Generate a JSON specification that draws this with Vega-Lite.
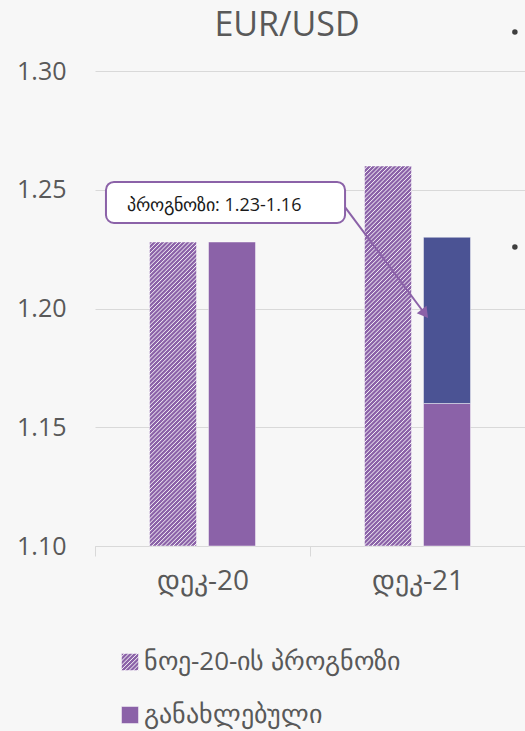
{
  "$schema": "https://vega.github.io/schema/vega-lite/v6.json",
  "autosize": {"type": "none"},
  "width": 430,
  "height": 475,
  "padding": {"left": 95, "top": 71, "right": 0, "bottom": 185},
  "background": "#f7f7f7",
  "title": {"text": "EUR/USD", "font": "Open Sans", "fontSize": 34, "fontWeight": "normal", "color": "#595959", "anchor": "middle", "frame": "group", "dx": -23, "offset": 0, "dy": 14},
  "datasets": {
    "bars": [
      {"period": "დეკ-20", "series": "ნოე-20-ის პროგნოზი", "value": 1.228},
      {"period": "დეკ-20", "series": "განახლებული", "value": 1.228},
      {"period": "დეკ-21", "series": "ნოე-20-ის პროგნოზი", "value": 1.26},
      {"period": "დეკ-21", "series": "განახლებული", "value": 1.16}
    ],
    "range": [
      {"period": "დეკ-21", "series": "განახლებული", "from": 1.16, "to": 1.23}
    ]
  },
  "config": {
    "view": {"stroke": null},
    "font": "Open Sans",
    "bar": {"stroke": "#ffffff", "strokeOpacity": 0.45, "strokeWidth": 1},
    "axisX": {"domainColor": "#d9d9d9", "tickColor": "#d9d9d9", "tickSize": 10, "tickBand": "extent", "labelFontSize": 28, "labelColor": "#595959", "labelPadding": 11, "labelAngle": 0, "grid": false},
    "axisY": {"domain": false, "ticks": false, "tickSize": 0, "labelFontSize": 25, "labelColor": "#595959", "labelPadding": 29, "gridColor": "#d9d9d9", "gridWidth": 1}
  },
  "resolve": {"scale": {"x": "independent"}},
  "layer": [
    {
      "data": {"name": "bars"},
      "layer": [
        {
          "transform": [{"filter": "datum.series === 'ნოე-20-ის პროგნოზი' && datum.period === 'დეკ-20'"}],
          "mark": {"type": "bar", "fill": {"gradient": "linear", "x1": 0, "y1": 0, "x2": 0.174341, "y2": 1.127651, "stops": [
            {"offset":0,"color":"#8b62a8"},{"offset":0.006,"color":"#8b62a8"},{"offset":0.009,"color":"#f4f1f6"},
            {"offset":0.012,"color":"#8b62a8"},{"offset":0.018,"color":"#8b62a8"},{"offset":0.021,"color":"#f4f1f6"},
            {"offset":0.024,"color":"#8b62a8"},{"offset":0.03,"color":"#8b62a8"},{"offset":0.033,"color":"#f4f1f6"},
            {"offset":0.036,"color":"#8b62a8"},{"offset":0.042,"color":"#8b62a8"},{"offset":0.045,"color":"#f4f1f6"},
            {"offset":0.048,"color":"#8b62a8"},{"offset":0.054,"color":"#8b62a8"},{"offset":0.057,"color":"#f4f1f6"},
            {"offset":0.06,"color":"#8b62a8"},{"offset":0.066,"color":"#8b62a8"},{"offset":0.069,"color":"#f4f1f6"},
            {"offset":0.072,"color":"#8b62a8"},{"offset":0.078,"color":"#8b62a8"},{"offset":0.081,"color":"#f4f1f6"},
            {"offset":0.084,"color":"#8b62a8"},{"offset":0.09,"color":"#8b62a8"},{"offset":0.093,"color":"#f4f1f6"},
            {"offset":0.096,"color":"#8b62a8"},{"offset":0.102,"color":"#8b62a8"},{"offset":0.105,"color":"#f4f1f6"},
            {"offset":0.108,"color":"#8b62a8"},{"offset":0.114,"color":"#8b62a8"},{"offset":0.117,"color":"#f4f1f6"},
            {"offset":0.12,"color":"#8b62a8"},{"offset":0.126,"color":"#8b62a8"},{"offset":0.129,"color":"#f4f1f6"},
            {"offset":0.132,"color":"#8b62a8"},{"offset":0.138,"color":"#8b62a8"},{"offset":0.141,"color":"#f4f1f6"},
            {"offset":0.144,"color":"#8b62a8"},{"offset":0.15,"color":"#8b62a8"},{"offset":0.153,"color":"#f4f1f6"},
            {"offset":0.156,"color":"#8b62a8"},{"offset":0.162,"color":"#8b62a8"},{"offset":0.165,"color":"#f4f1f6"},
            {"offset":0.168,"color":"#8b62a8"},{"offset":0.174,"color":"#8b62a8"},{"offset":0.177,"color":"#f4f1f6"},
            {"offset":0.18,"color":"#8b62a8"},{"offset":0.186,"color":"#8b62a8"},{"offset":0.189,"color":"#f4f1f6"},
            {"offset":0.192,"color":"#8b62a8"},{"offset":0.198,"color":"#8b62a8"},{"offset":0.201,"color":"#f4f1f6"},
            {"offset":0.204,"color":"#8b62a8"},{"offset":0.21,"color":"#8b62a8"},{"offset":0.213,"color":"#f4f1f6"},
            {"offset":0.216,"color":"#8b62a8"},{"offset":0.222,"color":"#8b62a8"},{"offset":0.225,"color":"#f4f1f6"},
            {"offset":0.228,"color":"#8b62a8"},{"offset":0.234,"color":"#8b62a8"},{"offset":0.237,"color":"#f4f1f6"},
            {"offset":0.24,"color":"#8b62a8"},{"offset":0.246,"color":"#8b62a8"},{"offset":0.249,"color":"#f4f1f6"},
            {"offset":0.252,"color":"#8b62a8"},{"offset":0.258,"color":"#8b62a8"},{"offset":0.261,"color":"#f4f1f6"},
            {"offset":0.264,"color":"#8b62a8"},{"offset":0.27,"color":"#8b62a8"},{"offset":0.273,"color":"#f4f1f6"},
            {"offset":0.276,"color":"#8b62a8"},{"offset":0.282,"color":"#8b62a8"},{"offset":0.285,"color":"#f4f1f6"},
            {"offset":0.288,"color":"#8b62a8"},{"offset":0.294,"color":"#8b62a8"},{"offset":0.297,"color":"#f4f1f6"},
            {"offset":0.3,"color":"#8b62a8"},{"offset":0.306,"color":"#8b62a8"},{"offset":0.309,"color":"#f4f1f6"},
            {"offset":0.312,"color":"#8b62a8"},{"offset":0.318,"color":"#8b62a8"},{"offset":0.321,"color":"#f4f1f6"},
            {"offset":0.324,"color":"#8b62a8"},{"offset":0.33,"color":"#8b62a8"},{"offset":0.333,"color":"#f4f1f6"},
            {"offset":0.336,"color":"#8b62a8"},{"offset":0.342,"color":"#8b62a8"},{"offset":0.345,"color":"#f4f1f6"},
            {"offset":0.348,"color":"#8b62a8"},{"offset":0.354,"color":"#8b62a8"},{"offset":0.357,"color":"#f4f1f6"},
            {"offset":0.36,"color":"#8b62a8"},{"offset":0.366,"color":"#8b62a8"},{"offset":0.369,"color":"#f4f1f6"},
            {"offset":0.372,"color":"#8b62a8"},{"offset":0.378,"color":"#8b62a8"},{"offset":0.381,"color":"#f4f1f6"},
            {"offset":0.384,"color":"#8b62a8"},{"offset":0.39,"color":"#8b62a8"},{"offset":0.393,"color":"#f4f1f6"},
            {"offset":0.396,"color":"#8b62a8"},{"offset":0.402,"color":"#8b62a8"},{"offset":0.405,"color":"#f4f1f6"},
            {"offset":0.408,"color":"#8b62a8"},{"offset":0.414,"color":"#8b62a8"},{"offset":0.417,"color":"#f4f1f6"},
            {"offset":0.42,"color":"#8b62a8"},{"offset":0.426,"color":"#8b62a8"},{"offset":0.429,"color":"#f4f1f6"},
            {"offset":0.432,"color":"#8b62a8"},{"offset":0.438,"color":"#8b62a8"},{"offset":0.441,"color":"#f4f1f6"},
            {"offset":0.444,"color":"#8b62a8"},{"offset":0.45,"color":"#8b62a8"},{"offset":0.453,"color":"#f4f1f6"},
            {"offset":0.456,"color":"#8b62a8"},{"offset":0.462,"color":"#8b62a8"},{"offset":0.465,"color":"#f4f1f6"},
            {"offset":0.468,"color":"#8b62a8"},{"offset":0.474,"color":"#8b62a8"},{"offset":0.477,"color":"#f4f1f6"},
            {"offset":0.48,"color":"#8b62a8"},{"offset":0.486,"color":"#8b62a8"},{"offset":0.489,"color":"#f4f1f6"},
            {"offset":0.492,"color":"#8b62a8"},{"offset":0.498,"color":"#8b62a8"},{"offset":0.501,"color":"#f4f1f6"},
            {"offset":0.504,"color":"#8b62a8"},{"offset":0.51,"color":"#8b62a8"},{"offset":0.513,"color":"#f4f1f6"},
            {"offset":0.516,"color":"#8b62a8"},{"offset":0.522,"color":"#8b62a8"},{"offset":0.525,"color":"#f4f1f6"},
            {"offset":0.528,"color":"#8b62a8"},{"offset":0.534,"color":"#8b62a8"},{"offset":0.537,"color":"#f4f1f6"},
            {"offset":0.54,"color":"#8b62a8"},{"offset":0.546,"color":"#8b62a8"},{"offset":0.549,"color":"#f4f1f6"},
            {"offset":0.552,"color":"#8b62a8"},{"offset":0.558,"color":"#8b62a8"},{"offset":0.561,"color":"#f4f1f6"},
            {"offset":0.564,"color":"#8b62a8"},{"offset":0.57,"color":"#8b62a8"},{"offset":0.573,"color":"#f4f1f6"},
            {"offset":0.576,"color":"#8b62a8"},{"offset":0.582,"color":"#8b62a8"},{"offset":0.585,"color":"#f4f1f6"},
            {"offset":0.588,"color":"#8b62a8"},{"offset":0.594,"color":"#8b62a8"},{"offset":0.597,"color":"#f4f1f6"},
            {"offset":0.6,"color":"#8b62a8"},{"offset":0.606,"color":"#8b62a8"},{"offset":0.609,"color":"#f4f1f6"},
            {"offset":0.612,"color":"#8b62a8"},{"offset":0.618,"color":"#8b62a8"},{"offset":0.621,"color":"#f4f1f6"},
            {"offset":0.624,"color":"#8b62a8"},{"offset":0.63,"color":"#8b62a8"},{"offset":0.633,"color":"#f4f1f6"},
            {"offset":0.636,"color":"#8b62a8"},{"offset":0.642,"color":"#8b62a8"},{"offset":0.645,"color":"#f4f1f6"},
            {"offset":0.648,"color":"#8b62a8"},{"offset":0.654,"color":"#8b62a8"},{"offset":0.657,"color":"#f4f1f6"},
            {"offset":0.66,"color":"#8b62a8"},{"offset":0.666,"color":"#8b62a8"},{"offset":0.669,"color":"#f4f1f6"},
            {"offset":0.672,"color":"#8b62a8"},{"offset":0.678,"color":"#8b62a8"},{"offset":0.681,"color":"#f4f1f6"},
            {"offset":0.684,"color":"#8b62a8"},{"offset":0.69,"color":"#8b62a8"},{"offset":0.693,"color":"#f4f1f6"},
            {"offset":0.696,"color":"#8b62a8"},{"offset":0.702,"color":"#8b62a8"},{"offset":0.705,"color":"#f4f1f6"},
            {"offset":0.708,"color":"#8b62a8"},{"offset":0.714,"color":"#8b62a8"},{"offset":0.717,"color":"#f4f1f6"},
            {"offset":0.72,"color":"#8b62a8"},{"offset":0.726,"color":"#8b62a8"},{"offset":0.729,"color":"#f4f1f6"},
            {"offset":0.732,"color":"#8b62a8"},{"offset":0.738,"color":"#8b62a8"},{"offset":0.741,"color":"#f4f1f6"},
            {"offset":0.744,"color":"#8b62a8"},{"offset":0.75,"color":"#8b62a8"},{"offset":0.753,"color":"#f4f1f6"},
            {"offset":0.756,"color":"#8b62a8"},{"offset":0.762,"color":"#8b62a8"},{"offset":0.765,"color":"#f4f1f6"},
            {"offset":0.768,"color":"#8b62a8"},{"offset":0.774,"color":"#8b62a8"},{"offset":0.777,"color":"#f4f1f6"},
            {"offset":0.78,"color":"#8b62a8"},{"offset":0.786,"color":"#8b62a8"},{"offset":0.789,"color":"#f4f1f6"},
            {"offset":0.792,"color":"#8b62a8"},{"offset":0.798,"color":"#8b62a8"},{"offset":0.801,"color":"#f4f1f6"},
            {"offset":0.804,"color":"#8b62a8"},{"offset":0.81,"color":"#8b62a8"},{"offset":0.813,"color":"#f4f1f6"},
            {"offset":0.816,"color":"#8b62a8"},{"offset":0.822,"color":"#8b62a8"},{"offset":0.825,"color":"#f4f1f6"},
            {"offset":0.828,"color":"#8b62a8"},{"offset":0.834,"color":"#8b62a8"},{"offset":0.837,"color":"#f4f1f6"},
            {"offset":0.84,"color":"#8b62a8"},{"offset":0.846,"color":"#8b62a8"},{"offset":0.849,"color":"#f4f1f6"},
            {"offset":0.852,"color":"#8b62a8"},{"offset":0.858,"color":"#8b62a8"},{"offset":0.861,"color":"#f4f1f6"},
            {"offset":0.864,"color":"#8b62a8"},{"offset":0.87,"color":"#8b62a8"},{"offset":0.873,"color":"#f4f1f6"},
            {"offset":0.876,"color":"#8b62a8"},{"offset":0.882,"color":"#8b62a8"},{"offset":0.885,"color":"#f4f1f6"},
            {"offset":0.888,"color":"#8b62a8"},{"offset":0.894,"color":"#8b62a8"},{"offset":0.897,"color":"#f4f1f6"},
            {"offset":0.9,"color":"#8b62a8"},{"offset":0.906,"color":"#8b62a8"},{"offset":0.909,"color":"#f4f1f6"},
            {"offset":0.912,"color":"#8b62a8"},{"offset":0.918,"color":"#8b62a8"},{"offset":0.921,"color":"#f4f1f6"},
            {"offset":0.924,"color":"#8b62a8"},{"offset":0.93,"color":"#8b62a8"},{"offset":0.933,"color":"#f4f1f6"},
            {"offset":0.936,"color":"#8b62a8"},{"offset":0.942,"color":"#8b62a8"},{"offset":0.945,"color":"#f4f1f6"},
            {"offset":0.948,"color":"#8b62a8"},{"offset":0.954,"color":"#8b62a8"},{"offset":0.957,"color":"#f4f1f6"},
            {"offset":0.96,"color":"#8b62a8"},{"offset":0.966,"color":"#8b62a8"},{"offset":0.969,"color":"#f4f1f6"},
            {"offset":0.972,"color":"#8b62a8"},{"offset":0.978,"color":"#8b62a8"},{"offset":0.981,"color":"#f4f1f6"},
            {"offset":0.984,"color":"#8b62a8"},{"offset":0.99,"color":"#8b62a8"},{"offset":0.993,"color":"#f4f1f6"},
            {"offset":0.996,"color":"#8b62a8"}
          ]}},
          "encoding": {
            "x": {"field": "period", "type": "nominal", "sort": ["დეკ-20", "დეკ-21"], "scale": {"paddingInner": 0, "paddingOuter": 0}, "title": null},
            "xOffset": {"field": "series", "type": "nominal", "scale": {"domain": ["ნოე-20-ის პროგნოზი", "განახლებული"], "paddingInner": 0.2034, "paddingOuter": 0.9237}},
            "y": {"field": "value", "type": "quantitative", "scale": {"domain": [1.1, 1.3], "zero": false, "nice": false}, "axis": {"values": [1.1, 1.15, 1.2, 1.25, 1.3], "format": ".2f"}, "title": null},
            "y2": {"datum": 1.1}
          }
        },
        {
          "transform": [{"filter": "datum.series === 'ნოე-20-ის პროგნოზი' && datum.period === 'დეკ-21'"}],
          "mark": {"type": "bar", "fill": {"gradient": "linear", "x1": 0, "y1": 0, "x2": 0.136888, "y2": 1.106754, "stops": [
            {"offset":0,"color":"#8b62a8"},{"offset":0.005,"color":"#8b62a8"},{"offset":0.0075,"color":"#f4f1f6"},
            {"offset":0.01,"color":"#8b62a8"},{"offset":0.015,"color":"#8b62a8"},{"offset":0.0175,"color":"#f4f1f6"},
            {"offset":0.02,"color":"#8b62a8"},{"offset":0.025,"color":"#8b62a8"},{"offset":0.0275,"color":"#f4f1f6"},
            {"offset":0.03,"color":"#8b62a8"},{"offset":0.035,"color":"#8b62a8"},{"offset":0.0375,"color":"#f4f1f6"},
            {"offset":0.04,"color":"#8b62a8"},{"offset":0.045,"color":"#8b62a8"},{"offset":0.0475,"color":"#f4f1f6"},
            {"offset":0.05,"color":"#8b62a8"},{"offset":0.055,"color":"#8b62a8"},{"offset":0.0575,"color":"#f4f1f6"},
            {"offset":0.06,"color":"#8b62a8"},{"offset":0.065,"color":"#8b62a8"},{"offset":0.0675,"color":"#f4f1f6"},
            {"offset":0.07,"color":"#8b62a8"},{"offset":0.075,"color":"#8b62a8"},{"offset":0.0775,"color":"#f4f1f6"},
            {"offset":0.08,"color":"#8b62a8"},{"offset":0.085,"color":"#8b62a8"},{"offset":0.0875,"color":"#f4f1f6"},
            {"offset":0.09,"color":"#8b62a8"},{"offset":0.095,"color":"#8b62a8"},{"offset":0.0975,"color":"#f4f1f6"},
            {"offset":0.1,"color":"#8b62a8"},{"offset":0.105,"color":"#8b62a8"},{"offset":0.1075,"color":"#f4f1f6"},
            {"offset":0.11,"color":"#8b62a8"},{"offset":0.115,"color":"#8b62a8"},{"offset":0.1175,"color":"#f4f1f6"},
            {"offset":0.12,"color":"#8b62a8"},{"offset":0.125,"color":"#8b62a8"},{"offset":0.1275,"color":"#f4f1f6"},
            {"offset":0.13,"color":"#8b62a8"},{"offset":0.135,"color":"#8b62a8"},{"offset":0.1375,"color":"#f4f1f6"},
            {"offset":0.14,"color":"#8b62a8"},{"offset":0.145,"color":"#8b62a8"},{"offset":0.1475,"color":"#f4f1f6"},
            {"offset":0.15,"color":"#8b62a8"},{"offset":0.155,"color":"#8b62a8"},{"offset":0.1575,"color":"#f4f1f6"},
            {"offset":0.16,"color":"#8b62a8"},{"offset":0.165,"color":"#8b62a8"},{"offset":0.1675,"color":"#f4f1f6"},
            {"offset":0.17,"color":"#8b62a8"},{"offset":0.175,"color":"#8b62a8"},{"offset":0.1775,"color":"#f4f1f6"},
            {"offset":0.18,"color":"#8b62a8"},{"offset":0.185,"color":"#8b62a8"},{"offset":0.1875,"color":"#f4f1f6"},
            {"offset":0.19,"color":"#8b62a8"},{"offset":0.195,"color":"#8b62a8"},{"offset":0.1975,"color":"#f4f1f6"},
            {"offset":0.2,"color":"#8b62a8"},{"offset":0.205,"color":"#8b62a8"},{"offset":0.2075,"color":"#f4f1f6"},
            {"offset":0.21,"color":"#8b62a8"},{"offset":0.215,"color":"#8b62a8"},{"offset":0.2175,"color":"#f4f1f6"},
            {"offset":0.22,"color":"#8b62a8"},{"offset":0.225,"color":"#8b62a8"},{"offset":0.2275,"color":"#f4f1f6"},
            {"offset":0.23,"color":"#8b62a8"},{"offset":0.235,"color":"#8b62a8"},{"offset":0.2375,"color":"#f4f1f6"},
            {"offset":0.24,"color":"#8b62a8"},{"offset":0.245,"color":"#8b62a8"},{"offset":0.2475,"color":"#f4f1f6"},
            {"offset":0.25,"color":"#8b62a8"},{"offset":0.255,"color":"#8b62a8"},{"offset":0.2575,"color":"#f4f1f6"},
            {"offset":0.26,"color":"#8b62a8"},{"offset":0.265,"color":"#8b62a8"},{"offset":0.2675,"color":"#f4f1f6"},
            {"offset":0.27,"color":"#8b62a8"},{"offset":0.275,"color":"#8b62a8"},{"offset":0.2775,"color":"#f4f1f6"},
            {"offset":0.28,"color":"#8b62a8"},{"offset":0.285,"color":"#8b62a8"},{"offset":0.2875,"color":"#f4f1f6"},
            {"offset":0.29,"color":"#8b62a8"},{"offset":0.295,"color":"#8b62a8"},{"offset":0.2975,"color":"#f4f1f6"},
            {"offset":0.3,"color":"#8b62a8"},{"offset":0.305,"color":"#8b62a8"},{"offset":0.3075,"color":"#f4f1f6"},
            {"offset":0.31,"color":"#8b62a8"},{"offset":0.315,"color":"#8b62a8"},{"offset":0.3175,"color":"#f4f1f6"},
            {"offset":0.32,"color":"#8b62a8"},{"offset":0.325,"color":"#8b62a8"},{"offset":0.3275,"color":"#f4f1f6"},
            {"offset":0.33,"color":"#8b62a8"},{"offset":0.335,"color":"#8b62a8"},{"offset":0.3375,"color":"#f4f1f6"},
            {"offset":0.34,"color":"#8b62a8"},{"offset":0.345,"color":"#8b62a8"},{"offset":0.3475,"color":"#f4f1f6"},
            {"offset":0.35,"color":"#8b62a8"},{"offset":0.355,"color":"#8b62a8"},{"offset":0.3575,"color":"#f4f1f6"},
            {"offset":0.36,"color":"#8b62a8"},{"offset":0.365,"color":"#8b62a8"},{"offset":0.3675,"color":"#f4f1f6"},
            {"offset":0.37,"color":"#8b62a8"},{"offset":0.375,"color":"#8b62a8"},{"offset":0.3775,"color":"#f4f1f6"},
            {"offset":0.38,"color":"#8b62a8"},{"offset":0.385,"color":"#8b62a8"},{"offset":0.3875,"color":"#f4f1f6"},
            {"offset":0.39,"color":"#8b62a8"},{"offset":0.395,"color":"#8b62a8"},{"offset":0.3975,"color":"#f4f1f6"},
            {"offset":0.4,"color":"#8b62a8"},{"offset":0.405,"color":"#8b62a8"},{"offset":0.4075,"color":"#f4f1f6"},
            {"offset":0.41,"color":"#8b62a8"},{"offset":0.415,"color":"#8b62a8"},{"offset":0.4175,"color":"#f4f1f6"},
            {"offset":0.42,"color":"#8b62a8"},{"offset":0.425,"color":"#8b62a8"},{"offset":0.4275,"color":"#f4f1f6"},
            {"offset":0.43,"color":"#8b62a8"},{"offset":0.435,"color":"#8b62a8"},{"offset":0.4375,"color":"#f4f1f6"},
            {"offset":0.44,"color":"#8b62a8"},{"offset":0.445,"color":"#8b62a8"},{"offset":0.4475,"color":"#f4f1f6"},
            {"offset":0.45,"color":"#8b62a8"},{"offset":0.455,"color":"#8b62a8"},{"offset":0.4575,"color":"#f4f1f6"},
            {"offset":0.46,"color":"#8b62a8"},{"offset":0.465,"color":"#8b62a8"},{"offset":0.4675,"color":"#f4f1f6"},
            {"offset":0.47,"color":"#8b62a8"},{"offset":0.475,"color":"#8b62a8"},{"offset":0.4775,"color":"#f4f1f6"},
            {"offset":0.48,"color":"#8b62a8"},{"offset":0.485,"color":"#8b62a8"},{"offset":0.4875,"color":"#f4f1f6"},
            {"offset":0.49,"color":"#8b62a8"},{"offset":0.495,"color":"#8b62a8"},{"offset":0.4975,"color":"#f4f1f6"},
            {"offset":0.5,"color":"#8b62a8"},{"offset":0.505,"color":"#8b62a8"},{"offset":0.5075,"color":"#f4f1f6"},
            {"offset":0.51,"color":"#8b62a8"},{"offset":0.515,"color":"#8b62a8"},{"offset":0.5175,"color":"#f4f1f6"},
            {"offset":0.52,"color":"#8b62a8"},{"offset":0.525,"color":"#8b62a8"},{"offset":0.5275,"color":"#f4f1f6"},
            {"offset":0.53,"color":"#8b62a8"},{"offset":0.535,"color":"#8b62a8"},{"offset":0.5375,"color":"#f4f1f6"},
            {"offset":0.54,"color":"#8b62a8"},{"offset":0.545,"color":"#8b62a8"},{"offset":0.5475,"color":"#f4f1f6"},
            {"offset":0.55,"color":"#8b62a8"},{"offset":0.555,"color":"#8b62a8"},{"offset":0.5575,"color":"#f4f1f6"},
            {"offset":0.56,"color":"#8b62a8"},{"offset":0.565,"color":"#8b62a8"},{"offset":0.5675,"color":"#f4f1f6"},
            {"offset":0.57,"color":"#8b62a8"},{"offset":0.575,"color":"#8b62a8"},{"offset":0.5775,"color":"#f4f1f6"},
            {"offset":0.58,"color":"#8b62a8"},{"offset":0.585,"color":"#8b62a8"},{"offset":0.5875,"color":"#f4f1f6"},
            {"offset":0.59,"color":"#8b62a8"},{"offset":0.595,"color":"#8b62a8"},{"offset":0.5975,"color":"#f4f1f6"},
            {"offset":0.6,"color":"#8b62a8"},{"offset":0.605,"color":"#8b62a8"},{"offset":0.6075,"color":"#f4f1f6"},
            {"offset":0.61,"color":"#8b62a8"},{"offset":0.615,"color":"#8b62a8"},{"offset":0.6175,"color":"#f4f1f6"},
            {"offset":0.62,"color":"#8b62a8"},{"offset":0.625,"color":"#8b62a8"},{"offset":0.6275,"color":"#f4f1f6"},
            {"offset":0.63,"color":"#8b62a8"},{"offset":0.635,"color":"#8b62a8"},{"offset":0.6375,"color":"#f4f1f6"},
            {"offset":0.64,"color":"#8b62a8"},{"offset":0.645,"color":"#8b62a8"},{"offset":0.6475,"color":"#f4f1f6"},
            {"offset":0.65,"color":"#8b62a8"},{"offset":0.655,"color":"#8b62a8"},{"offset":0.6575,"color":"#f4f1f6"},
            {"offset":0.66,"color":"#8b62a8"},{"offset":0.665,"color":"#8b62a8"},{"offset":0.6675,"color":"#f4f1f6"},
            {"offset":0.67,"color":"#8b62a8"},{"offset":0.675,"color":"#8b62a8"},{"offset":0.6775,"color":"#f4f1f6"},
            {"offset":0.68,"color":"#8b62a8"},{"offset":0.685,"color":"#8b62a8"},{"offset":0.6875,"color":"#f4f1f6"},
            {"offset":0.69,"color":"#8b62a8"},{"offset":0.695,"color":"#8b62a8"},{"offset":0.6975,"color":"#f4f1f6"},
            {"offset":0.7,"color":"#8b62a8"},{"offset":0.705,"color":"#8b62a8"},{"offset":0.7075,"color":"#f4f1f6"},
            {"offset":0.71,"color":"#8b62a8"},{"offset":0.715,"color":"#8b62a8"},{"offset":0.7175,"color":"#f4f1f6"},
            {"offset":0.72,"color":"#8b62a8"},{"offset":0.725,"color":"#8b62a8"},{"offset":0.7275,"color":"#f4f1f6"},
            {"offset":0.73,"color":"#8b62a8"},{"offset":0.735,"color":"#8b62a8"},{"offset":0.7375,"color":"#f4f1f6"},
            {"offset":0.74,"color":"#8b62a8"},{"offset":0.745,"color":"#8b62a8"},{"offset":0.7475,"color":"#f4f1f6"},
            {"offset":0.75,"color":"#8b62a8"},{"offset":0.755,"color":"#8b62a8"},{"offset":0.7575,"color":"#f4f1f6"},
            {"offset":0.76,"color":"#8b62a8"},{"offset":0.765,"color":"#8b62a8"},{"offset":0.7675,"color":"#f4f1f6"},
            {"offset":0.77,"color":"#8b62a8"},{"offset":0.775,"color":"#8b62a8"},{"offset":0.7775,"color":"#f4f1f6"},
            {"offset":0.78,"color":"#8b62a8"},{"offset":0.785,"color":"#8b62a8"},{"offset":0.7875,"color":"#f4f1f6"},
            {"offset":0.79,"color":"#8b62a8"},{"offset":0.795,"color":"#8b62a8"},{"offset":0.7975,"color":"#f4f1f6"},
            {"offset":0.8,"color":"#8b62a8"},{"offset":0.805,"color":"#8b62a8"},{"offset":0.8075,"color":"#f4f1f6"},
            {"offset":0.81,"color":"#8b62a8"},{"offset":0.815,"color":"#8b62a8"},{"offset":0.8175,"color":"#f4f1f6"},
            {"offset":0.82,"color":"#8b62a8"},{"offset":0.825,"color":"#8b62a8"},{"offset":0.8275,"color":"#f4f1f6"},
            {"offset":0.83,"color":"#8b62a8"},{"offset":0.835,"color":"#8b62a8"},{"offset":0.8375,"color":"#f4f1f6"},
            {"offset":0.84,"color":"#8b62a8"},{"offset":0.845,"color":"#8b62a8"},{"offset":0.8475,"color":"#f4f1f6"},
            {"offset":0.85,"color":"#8b62a8"},{"offset":0.855,"color":"#8b62a8"},{"offset":0.8575,"color":"#f4f1f6"},
            {"offset":0.86,"color":"#8b62a8"},{"offset":0.865,"color":"#8b62a8"},{"offset":0.8675,"color":"#f4f1f6"},
            {"offset":0.87,"color":"#8b62a8"},{"offset":0.875,"color":"#8b62a8"},{"offset":0.8775,"color":"#f4f1f6"},
            {"offset":0.88,"color":"#8b62a8"},{"offset":0.885,"color":"#8b62a8"},{"offset":0.8875,"color":"#f4f1f6"},
            {"offset":0.89,"color":"#8b62a8"},{"offset":0.895,"color":"#8b62a8"},{"offset":0.8975,"color":"#f4f1f6"},
            {"offset":0.9,"color":"#8b62a8"},{"offset":0.905,"color":"#8b62a8"},{"offset":0.9075,"color":"#f4f1f6"},
            {"offset":0.91,"color":"#8b62a8"},{"offset":0.915,"color":"#8b62a8"},{"offset":0.9175,"color":"#f4f1f6"},
            {"offset":0.92,"color":"#8b62a8"},{"offset":0.925,"color":"#8b62a8"},{"offset":0.9275,"color":"#f4f1f6"},
            {"offset":0.93,"color":"#8b62a8"},{"offset":0.935,"color":"#8b62a8"},{"offset":0.9375,"color":"#f4f1f6"},
            {"offset":0.94,"color":"#8b62a8"},{"offset":0.945,"color":"#8b62a8"},{"offset":0.9475,"color":"#f4f1f6"},
            {"offset":0.95,"color":"#8b62a8"},{"offset":0.955,"color":"#8b62a8"},{"offset":0.9575,"color":"#f4f1f6"},
            {"offset":0.96,"color":"#8b62a8"},{"offset":0.965,"color":"#8b62a8"},{"offset":0.9675,"color":"#f4f1f6"},
            {"offset":0.97,"color":"#8b62a8"},{"offset":0.975,"color":"#8b62a8"},{"offset":0.9775,"color":"#f4f1f6"},
            {"offset":0.98,"color":"#8b62a8"},{"offset":0.985,"color":"#8b62a8"},{"offset":0.9875,"color":"#f4f1f6"},
            {"offset":0.99,"color":"#8b62a8"},{"offset":0.995,"color":"#8b62a8"},{"offset":0.9975,"color":"#f4f1f6"},
            {"offset":1,"color":"#8b62a8"}
          ]}},
          "encoding": {
            "x": {"field": "period", "type": "nominal", "sort": ["დეკ-20", "დეკ-21"], "scale": {"paddingInner": 0, "paddingOuter": 0}, "title": null},
            "xOffset": {"field": "series", "type": "nominal", "scale": {"domain": ["ნოე-20-ის პროგნოზი", "განახლებული"], "paddingInner": 0.2034, "paddingOuter": 0.9237}},
            "y": {"field": "value", "type": "quantitative", "scale": {"domain": [1.1, 1.3], "zero": false, "nice": false}, "axis": {"values": [1.1, 1.15, 1.2, 1.25, 1.3], "format": ".2f"}, "title": null},
            "y2": {"datum": 1.1}
          }
        },
        {
          "transform": [{"filter": "datum.series === 'განახლებული'"}],
          "mark": {"type": "bar"},
          "encoding": {
            "x": {"field": "period", "type": "nominal", "sort": ["დეკ-20", "დეკ-21"], "scale": {"paddingInner": 0, "paddingOuter": 0}, "title": null},
            "xOffset": {"field": "series", "type": "nominal", "scale": {"domain": ["ნოე-20-ის პროგნოზი", "განახლებული"], "paddingInner": 0.2034, "paddingOuter": 0.9237}},
            "y": {"field": "value", "type": "quantitative", "scale": {"domain": [1.1, 1.3], "zero": false, "nice": false}, "axis": {"values": [1.1, 1.15, 1.2, 1.25, 1.3], "format": ".2f"}, "title": null},
            "y2": {"datum": 1.1},
            "color": {
              "field": "series",
              "type": "nominal",
              "scale": {
                "domain": ["ნოე-20-ის პროგნოზი", "განახლებული"],
                "range": [
                  {"expr": "{gradient:'linear',x1:0,y1:0,x2:1,y2:1,stops:[{offset:0,color:'#8b62a8'},{offset:0.0625,color:'#8b62a8'},{offset:0.09375,color:'#f4f1f6'},{offset:0.125,color:'#8b62a8'},{offset:0.1875,color:'#8b62a8'},{offset:0.21875,color:'#f4f1f6'},{offset:0.25,color:'#8b62a8'},{offset:0.3125,color:'#8b62a8'},{offset:0.34375,color:'#f4f1f6'},{offset:0.375,color:'#8b62a8'},{offset:0.4375,color:'#8b62a8'},{offset:0.46875,color:'#f4f1f6'},{offset:0.5,color:'#8b62a8'},{offset:0.5625,color:'#8b62a8'},{offset:0.59375,color:'#f4f1f6'},{offset:0.625,color:'#8b62a8'},{offset:0.6875,color:'#8b62a8'},{offset:0.71875,color:'#f4f1f6'},{offset:0.75,color:'#8b62a8'},{offset:0.8125,color:'#8b62a8'},{offset:0.84375,color:'#f4f1f6'},{offset:0.875,color:'#8b62a8'},{offset:0.9375,color:'#8b62a8'},{offset:0.96875,color:'#f4f1f6'},{offset:1,color:'#8b62a8'}]}"},
                  "#8b62a8"
                ]
              },
              "legend": {"title": null, "orient": "none", "legendX": 22, "legendY": 578, "direction": "vertical", "symbolType": "square", "symbolSize": 289, "symbolStrokeWidth": 0, "labelFont": "Open Sans", "labelFontSize": 26, "labelColor": "#595959", "labelOffset": 1, "labelLimit": 400, "rowPadding": 27, "padding": 0}
            }
          }
        },
        {
          "data": {"name": "range"},
          "mark": {"type": "bar", "fill": "#4b5394"},
          "encoding": {
            "x": {"field": "period", "type": "nominal", "sort": ["დეკ-20", "დეკ-21"], "scale": {"paddingInner": 0, "paddingOuter": 0}, "title": null},
            "xOffset": {"field": "series", "type": "nominal", "scale": {"domain": ["ნოე-20-ის პროგნოზი", "განახლებული"], "paddingInner": 0.2034, "paddingOuter": 0.9237}},
            "y": {"field": "to", "type": "quantitative", "scale": {"domain": [1.1, 1.3], "zero": false, "nice": false}, "axis": {"values": [1.1, 1.15, 1.2, 1.25, 1.3], "format": ".2f"}, "title": null},
            "y2": {"field": "from"}
          }
        }
      ]
    },
    {
      "data": {"values": [{}]},
      "layer": [
        {
          "mark": {"type": "rule", "stroke": "#8b62a8", "strokeWidth": 2},
          "encoding": {
            "x": {"datum": 1.1628, "type": "quantitative", "scale": {"domain": [0, 2]}, "axis": null},
            "x2": {"datum": 1.534},
            "y": {"datum": 1.2427, "type": "quantitative", "scale": {"domain": [1.1, 1.3]}, "title": null},
            "y2": {"datum": 1.1978}
          }
        },
        {
          "mark": {"type": "point", "shape": "triangle-up", "filled": true, "size": 150, "angle": 143, "color": "#8b62a8", "opacity": 1},
          "encoding": {
            "x": {"datum": 1.534, "type": "quantitative", "scale": {"domain": [0, 2]}, "axis": null},
            "y": {"datum": 1.1978, "type": "quantitative", "scale": {"domain": [1.1, 1.3]}, "title": null}
          }
        },
        {
          "mark": {"type": "rect", "fill": "#ffffff", "stroke": "#8b62a8", "strokeWidth": 2, "cornerRadius": 8},
          "encoding": {
            "x": {"datum": 0.051, "type": "quantitative", "scale": {"domain": [0, 2]}, "axis": null},
            "x2": {"datum": 1.163},
            "y": {"datum": 1.2533, "type": "quantitative", "scale": {"domain": [1.1, 1.3]}, "title": null},
            "y2": {"datum": 1.236}
          }
        },
        {
          "mark": {"type": "text", "text": "პროგნოზი: 1.23-1.16", "align": "left", "baseline": "middle", "font": "Open Sans", "fontSize": 18, "color": "#1a1a1a"},
          "encoding": {
            "x": {"datum": 0.149, "type": "quantitative", "scale": {"domain": [0, 2]}, "axis": null},
            "y": {"datum": 1.2431, "type": "quantitative", "scale": {"domain": [1.1, 1.3]}, "title": null}
          }
        },
        {
          "mark": {"type": "point", "shape": "circle", "filled": true, "size": 30, "color": "#3f3f3f", "opacity": 1},
          "encoding": {
            "x": {"datum": 1.953, "type": "quantitative", "scale": {"domain": [0, 2]}, "axis": null},
            "y": {"datum": 1.3164, "type": "quantitative", "scale": {"domain": [1.1, 1.3]}, "title": null}
          }
        },
        {
          "mark": {"type": "point", "shape": "circle", "filled": true, "size": 30, "color": "#3f3f3f", "opacity": 1},
          "encoding": {
            "x": {"datum": 1.953, "type": "quantitative", "scale": {"domain": [0, 2]}, "axis": null},
            "y": {"datum": 1.2259, "type": "quantitative", "scale": {"domain": [1.1, 1.3]}, "title": null}
          }
        }
      ]
    }
  ]
}
